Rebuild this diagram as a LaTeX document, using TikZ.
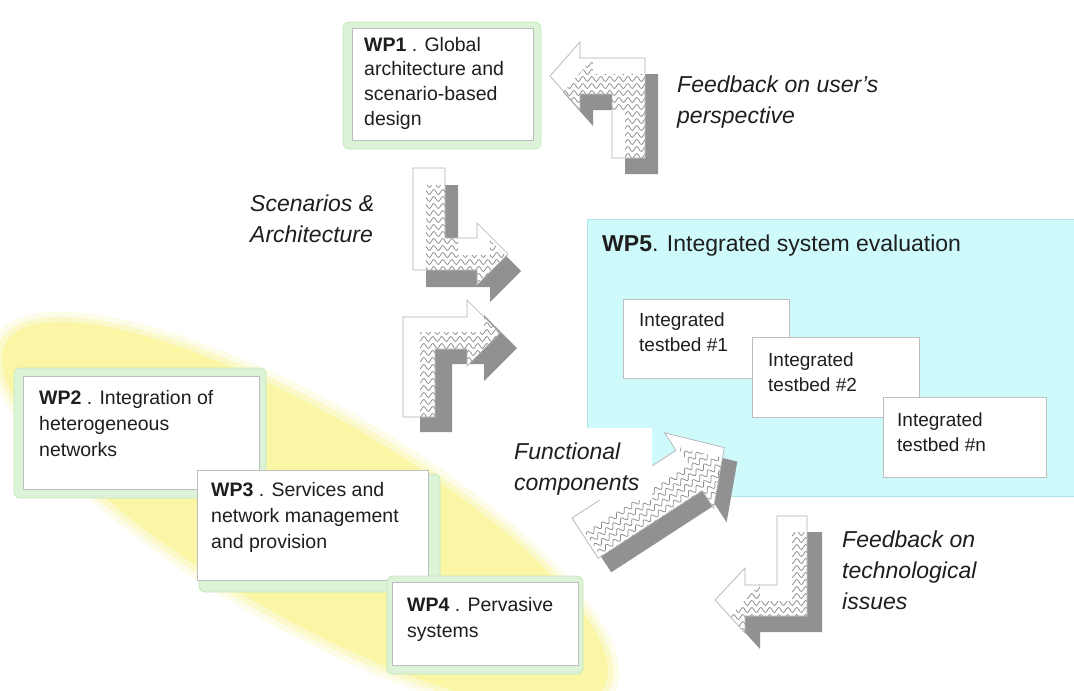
\documentclass[tikz,border=0pt]{standalone}
\usepackage{fontspec}
\setmainfont{Liberation Sans}
\usetikzlibrary{decorations.pathmorphing}

\definecolor{cyanbg}{RGB}{206,250,252}
\definecolor{cyanedge}{RGB}{175,228,230}
\definecolor{greensh}{RGB}{220,243,215}
\definecolor{greenedge}{RGB}{196,233,190}
\definecolor{boxedge}{RGB}{190,190,190}
\definecolor{arrgray}{RGB}{145,145,145}
\definecolor{arredge}{RGB}{178,178,178}
\definecolor{wavecol}{RGB}{140,140,140}
\definecolor{yel}{RGB}{250,246,165}
\definecolor{txt}{RGB}{30,30,30}

\def\arrA{(580,42) -- (550,76) -- (580,110) -- (580,94) -- (612,94) -- (612,158) -- (645,158) -- (645,58) -- (580,58) -- cycle}
\def\arrB{(413,168) -- (445,168) -- (445,238) -- (477,238) -- (477,223) -- (508,254) -- (477,285) -- (477,270) -- (413,270) -- cycle}
\def\arrC{(403,417) -- (403,317) -- (467,317) -- (467,300) -- (500,333) -- (467,366) -- (467,349) -- (435,349) -- (435,417) -- cycle}
\def\arrD{(572,518) -- (676,450.4) -- (664.6,432.8) -- (724.3,447.6) -- (713.6,508.3) -- (702.2,490.7) -- (598.2,558.3) -- cycle}
\def\arrE{(777,516) -- (807,516) -- (807,616) -- (745,616) -- (745,633) -- (715,600) -- (745,568) -- (745,585) -- (777,585) -- cycle}

% #1 path, #2 dx, #3 dy, #4 cx, #5 cy, #6 wave angle
\newcommand\blkarrow[6]{%
  \fill[arrgray, shift={(#2,#3)}] #1;
  \fill[white] #1;
  \begin{scope}
    \clip[shift={(#2,#3)}] #1;
    \clip #1;
    \begin{scope}[rotate around={#6:(#4,#5)}]
      \foreach \k in {0,...,30} {
        \draw[wave] (#4-110, #5-105+7*\k) -- (#4+110, #5-105+7*\k);
      }
    \end{scope}
  \end{scope}
  \draw[arredge, line width=0.7pt, line join=miter] #1;
}

\begin{document}
\begin{tikzpicture}[x=1pt,y=-1pt,
  wpgreen/.style={fill=greensh, draw=greenedge, line width=0.8pt, rounded corners=6pt},
  wpbox/.style={fill=white, draw=boxedge, line width=0.7pt},
  wptext/.style={anchor=north west, inner sep=0pt, align=left, text=txt, font=\fontsize{19.5}{26}\selectfont},
  tbbox/.style={fill=white, draw=boxedge, line width=0.7pt},
  tbtext/.style={anchor=north west, inner sep=0pt, align=left, text=txt, font=\fontsize{19}{25}\selectfont},
  lbl/.style={anchor=north west, inner sep=0pt, align=left, text=txt, font=\fontsize{23}{31}\selectfont\itshape},
  wave/.style={draw=wavecol, line width=0.75pt, decorate, decoration={snake, segment length=9pt, amplitude=2.5pt}},
]
\useasboundingbox (0,0) rectangle (1074,691);
\fill[white] (0,0) rectangle (1074,691);

% yellow ellipse
\foreach \rx/\ry/\op in {357/112/0.25, 351/106/0.45, 345/100/1} {
  \fill[yel, opacity=\op, rotate around={-30:(305,515)}] (305,515) ellipse [x radius=\rx, y radius=\ry];
}

% WP5 cyan area
\draw[fill=cyanbg, draw=cyanedge, line width=0.8pt] (587,219) rectangle (1080,496);
\node[anchor=north west, inner sep=0pt, text=txt, font=\fontsize{23}{28}\selectfont] (wp5) at (602,235) {\textbf{WP5}. Integrated system evaluation};

% testbeds
\draw[tbbox] (623,299) rectangle (789,378);
\node[tbtext] (tb1) at (639,313) {Integrated\\testbed \#1};
\draw[tbbox] (752,337) rectangle (919,417);
\node[tbtext] (tb2) at (768,353) {Integrated\\testbed \#2};
\draw[tbbox] (883,397) rectangle (1046,477);
\node[tbtext] (tbn) at (897,413) {Integrated\\testbed \#n};

% WP1
\draw[wpgreen] (343,22) rectangle (541,149);
\draw[wpbox] (352,28) rectangle (533,140);
\node[wptext, font=\fontsize{19.5}{24.6}\selectfont] (wp1) at (364,37) {\textbf{WP1} . Global\\architecture and\\scenario-based\\design};

% WP2, WP3, WP4
\draw[wpgreen] (14,368) rectangle (266,498);
\draw[wpbox] (23,376) rectangle (259,489);
\node[wptext] (wp2) at (39,390) {\textbf{WP2} . Integration of\\heterogeneous\\networks};

\draw[wpgreen] (199,474) rectangle (440,592);
\draw[wpbox] (197,470) rectangle (428,580);
\node[wptext] (wp3) at (211,482) {\textbf{WP3} . Services and\\network management\\and provision};

\draw[wpgreen] (387,576) rectangle (583,674);
\draw[wpbox] (392,582) rectangle (578,665);
\node[wptext] (wp4) at (407,597) {\textbf{WP4} . Pervasive\\systems};

% block arrows
\blkarrow{\arrA}{13}{16}{600}{100}{0}
\blkarrow{\arrB}{13}{17}{460}{220}{0}
\blkarrow{\arrC}{17}{15}{450}{360}{0}
\blkarrow{\arrD}{13}{14}{648}{495}{33}
\blkarrow{\arrE}{15}{16}{760}{575}{0}

% labels
\node[lbl] (fbuser) at (677,76) {Feedback on user's\\perspective};
\node[lbl] (scen) at (250,195) {Scenarios \&\\Architecture};
\fill[white] (505,428) rectangle (652,500);
\node[lbl] (func) at (514,443) {Functional\\components};
\node[lbl] (fbtech) at (842,531) {Feedback on\\technological\\issues};
\end{tikzpicture}
\end{document}
